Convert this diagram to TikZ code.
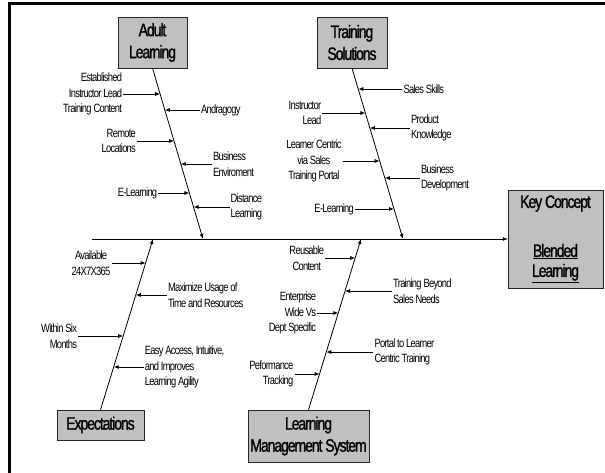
\documentclass[tikz,border=0pt]{standalone}
\usepackage{fontspec}
\usepackage{tikz}
\usetikzlibrary{positioning,arrows.meta}
\newfontfamily\fishfont[FakeStretch=0.78, LetterSpace=-6]{Liberation Sans}
\newfontfamily\causefont[FakeStretch=0.78, LetterSpace=-6, FakeBold=1.2]{Liberation Sans}
\definecolor{boxgray}{HTML}{C0C0C0}
\tikzset{
  cause/.style={draw=black!85, fill=boxgray, align=center, inner sep=0pt, font=\causefont\fontsize{18}{22}\selectfont},
  lbl/.style={inner sep=1pt, font=\fishfont\fontsize{12}{15.5}\selectfont},
  bone/.style={line width=.8pt, -{Latex[length=5pt,width=4pt]}},
  sub/.style={line width=.8pt, -{Latex[length=5pt,width=4pt]}}
}

\begin{document}
\begin{tikzpicture}[x=1pt, y=-1pt]
  \useasboundingbox (0,0) rectangle (605,473);
  \draw[line width=3pt] (9.5,480) -- (9.5,4) -- (610,4);

  % boxes
  \node[cause, minimum width=69pt, minimum height=51pt] (adult) at (152.5,42.5) {Adult\\Learning};
  \node[cause, minimum width=70pt, minimum height=51pt] (training) at (352,42.5) {Training\\Solutions};
  \node[cause, minimum width=87pt, minimum height=30pt] (expect) at (100.5,425) {Expectations};
  \node[cause, minimum width=121pt, minimum height=52pt] (lms) at (308.5,436) {Learning\\Management System};
  \node[cause, minimum width=95pt, minimum height=98pt, font=\causefont\fontsize{18}{20}\selectfont] (key) at (555.5,239) {Key Concept\\[29pt]\underline{Blended}\\\underline{Learning}};

  % spine and bones
  \coordinate (spineL) at (92,239);
  \coordinate (adultEnd) at (203,239);
  \coordinate (trainEnd) at (403,239);
  \coordinate (expEnd) at (153,239);
  \coordinate (lmsEnd) at (361,239);
  \draw[bone] (spineL) -- (key.west);
  \draw[bone] (adult.south) -- (adultEnd);
  \draw[bone] (training.south) -- (trainEnd);
  \draw[bone] (expect.north) -- (expEnd);
  \draw[bone] (lms.north) -- (lmsEnd);

  % adult learning
  \coordinate (a1) at (160.2,94);
  \coordinate (a2) at (164.9,110);
  \coordinate (a3) at (174.1,141);
  \coordinate (a4) at (180.9,164);
  \coordinate (a5) at (189.4,193);
  \coordinate (a6) at (193.5,207);
  \node[lbl, align=right, left=37pt of a1] (estab) {Established\\Instructor Lead\\Training Content};
  \node[lbl, align=left, right=35pt of a2] (andra) {Andragogy};
  \node[lbl, align=right, left=37pt of a3] (remote) {Remote\\Locations};
  \node[lbl, align=left, right=31pt of a4] (busenv) {Business\\Enviroment};
  \node[lbl, left=31pt of a5] (elearnA) {E-Learning};
  \node[lbl, align=left, right=36pt of a6] (distance) {Distance\\Learning};
  \draw[sub] (estab) -- (a1);
  \draw[sub] (andra) -- (a2);
  \draw[sub] (remote) -- (a3);
  \draw[sub] (busenv) -- (a4);
  \draw[sub] (elearnA) -- (a5);
  \draw[sub] (distance) -- (a6);

  % training solutions
  \coordinate (b1) at (358.3,89);
  \coordinate (b2) at (365.4,113);
  \coordinate (b3) at (369.9,128);
  \coordinate (b4) at (379.7,161);
  \coordinate (b5) at (384.8,178);
  \coordinate (b6) at (394.0,209);
  \node[lbl, right=44pt of b1] (skills) {Sales Skills};
  \node[lbl, align=right, left=43pt of b2] (instr) {Instructor\\Lead};
  \node[lbl, align=left, right=40pt of b3] (product) {Product\\Knowledge};
  \node[lbl, align=center, left=37pt of b4] (portal) {Learner Centric\\via Sales\\Training Portal};
  \node[lbl, align=left, right=35pt of b5] (busdev) {Business\\Development};
  \node[lbl, left=39pt of b6] (elearnB) {E-Learning};
  \draw[sub] (skills) -- (b1);
  \draw[sub] (instr) -- (b2);
  \draw[sub] (product) -- (b3);
  \draw[sub] (portal) -- (b4);
  \draw[sub] (busdev) -- (b5);
  \draw[sub] (elearnB) -- (b6);

  % expectations
  \coordinate (c1) at (145.6,263);
  \coordinate (c2) at (135.8,295);
  \coordinate (c3) at (123.2,336);
  \coordinate (c4) at (113.7,367);
  \node[lbl, align=center, left=34pt of c1] (avail) {Available\\24X7X365};
  \node[lbl, align=left, right=31pt of c2] (usage) {Maximize Usage of\\Time and Resources};
  \node[lbl, align=right, left=45pt of c3] (months) {Within Six\\Months};
  \node[lbl, align=left, right=30pt of c4] (access) {Easy Access, Intuitive,\\and Improves\\Learning Agility};
  \draw[sub] (avail) -- (c1);
  \draw[sub] (usage) -- (c2);
  \draw[sub] (months) -- (c3);
  \draw[sub] (access) -- (c4);

  % learning management system
  \coordinate (d1) at (355.2,258);
  \coordinate (d2) at (345.0,291);
  \coordinate (d3) at (338.3,313);
  \coordinate (d4) at (326.3,352);
  \coordinate (d5) at (319.6,374);
  \node[lbl, align=center, left=30pt of d1] (reuse) {Reusable\\Content};
  \node[lbl, align=left, right=47pt of d2] (beyond) {Training Beyond\\Sales Needs};
  \node[lbl, align=right, left=21pt of d3] (enterp) {Enterprise\\Wide Vs\\Dept Specific};
  \node[lbl, align=left, right=47pt of d4] (learner) {Portal to Learner\\Centric Training};
  \node[lbl, align=right, left=25pt of d5] (perf) {Peformance\\Tracking};
  \draw[sub] (reuse) -- (d1);
  \draw[sub] (beyond) -- (d2);
  \draw[sub] (enterp) -- (d3);
  \draw[sub] (learner) -- (d4);
  \draw[sub] (perf) -- (d5);
\end{tikzpicture}
\end{document}
